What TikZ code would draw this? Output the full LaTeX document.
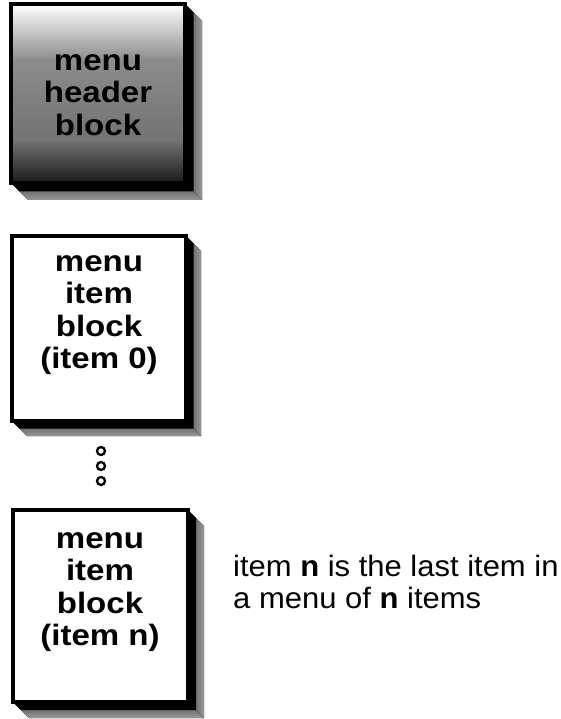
\documentclass[tikz,border=0pt]{standalone}
\usepackage{fontspec}
\setmainfont{Liberation Sans}
\usetikzlibrary{calc}
\tikzset{
  face/.style={draw=black, line width=4.5pt, line join=miter},
  sideR/.style={left color=black!70, right color=black!40},
  sideB/.style={top color=black!70, bottom color=black!40},
  blocktext/.style={align=center, inner sep=0pt, font=\bfseries\fontsize{29.5}{32.5}\selectfont, xscale=1.12},
  sidetext/.style={align=left, anchor=west, inner sep=0pt, font=\fontsize{29.5}{32.5}\selectfont, xscale=1.05},
  dotc/.style={circle, draw=black, line width=2.3pt, minimum size=8pt, inner sep=0pt}
}
% #1 x1, #2 y1, #3 x2, #4 y2, #5 depth
\newcommand{\extr}[5]{%
  \fill[sideR] (#3,#2) -- (#3+#5,#2+#5) -- (#3+#5,#4+#5) -- (#3,#4) -- cycle;
  \fill[sideB] (#1,#4) -- (#3,#4) -- (#3+#5,#4+#5) -- (#1+#5,#4+#5) -- cycle;
  \fill[black] (#3,#2) -- (#3+#5*0.5,#2+#5*0.5) -- (#3+#5*0.5,#4+#5*0.5) -- (#1+#5*0.5,#4+#5*0.5) -- (#1,#4) -- cycle;
}
\begin{document}
\begin{tikzpicture}[x=1pt,y=-1pt]
\path[use as bounding box, fill=white] (0,0) rectangle (560,719);

% header block
\extr{11}{4}{185}{183}{17}
\shade[top color=white, bottom color=black!45] (11,4) rectangle (185,60);
\shade[top color=black!45, bottom color=black!55] (11,60) rectangle (185,140);
\shade[top color=black!55, bottom color=black!90] (11,140) rectangle (185,183);
\draw[face] (11,4) rectangle (185,183);
\node[blocktext] (hdr) at (98,95) {menu\\header\\block};

% item 0 block
\extr{12}{236}{186}{421}{15}
\draw[face, fill=white] (12,236) rectangle (186,421);
\node[blocktext] (it0) at (99,315) {menu\\item\\block\\(item 0)};

% dots
\node[dotc] (d1) at (101,451) {};
\node[dotc] (d2) at (101,466) {};
\node[dotc] (d3) at (101,481) {};

% item n block
\extr{13}{510}{188}{702}{16}
\draw[face, fill=white] (13,510) rectangle (188,702);
\node[blocktext] (itn) at (100,592) {menu\\item\\block\\(item n)};

% side text
\node[sidetext] (note) at (233,582) {item \textbf{n} is the last item in\\a menu of \textbf{n} items};
\end{tikzpicture}
\end{document}
